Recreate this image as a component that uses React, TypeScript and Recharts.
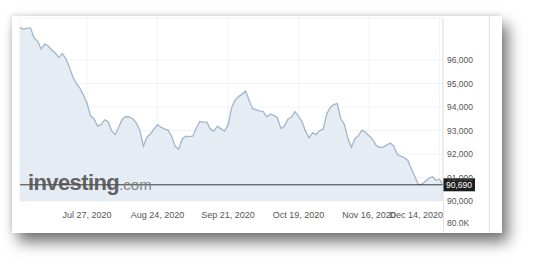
import React from "react";
import {
  AreaChart,
  Area,
  XAxis,
  YAxis,
  CartesianGrid,
  ReferenceLine,
} from "recharts";

// trading-day values, Jun 30 2020 .. Dec 15 2020
const values: number[] = [
  97390, 97310, 97360, 97360, 96940, 96810, 96470, 96680, 96600, 96430,
  96300, 96115, 96280, 96065, 95710, 95275, 95000, 94806, 94508, 94170,
  93633, 93490, 93186, 93250, 93459, 93378, 92994, 92823, 93143, 93484,
  93591, 93582, 93501, 93314, 93015, 92333, 92717, 92853, 93058, 93250,
  93143, 93058, 93015, 92760, 92333, 92205, 92631, 92760, 92738, 92760,
  93100, 93386, 93356, 93356, 93058, 92973, 93186, 93071, 92973, 93228,
  93953, 94294, 94444, 94550, 94678, 94294, 93932, 93889, 93825, 93804,
  93582, 93697, 93655, 93548, 93088, 93186, 93484, 93570, 93804, 93612,
  93378, 92973, 92695, 92909, 92823, 92994, 93058, 93697, 93996, 94102,
  94145, 93506, 93271, 92674, 92290, 92653, 92781, 93015, 92930, 92781,
  92631, 92376, 92278, 92290, 92376, 92469, 92342, 91992, 91907, 91843,
  91736, 91374, 91054, 90691, 90713, 90840, 90968, 91032, 90883, 90926,
  90690,
];

const xTickDays: number[] = [20, 40, 60, 80, 100, 120];
const xTickLabels: string[] = [
  "Jul 27, 2020",
  "Aug 24, 2020",
  "Sep 21, 2020",
  "Oct 19, 2020",
  "Nov 16, 2020",
  "Dec 14, 2020",
];
const yTicks: number[] = [90000, 91000, 92000, 93000, 94000, 95000, 96000];
const lastPrice = 90690;
const lastPriceLabel = "90,690";
const extraAxisLabel = "80.0K";

const data = values.map((v, i) => ({ t: i + 1, v }));

const FONT = "Arial, 'Liberation Sans', sans-serif";

const XTick = (props: any) => {
  const { x, y, payload, index } = props;
  const idx = xTickDays.indexOf(payload.value);
  const label = idx >= 0 ? xTickLabels[idx] : "";
  const isLast = idx === xTickDays.length - 1;
  return (
    <text
      x={isLast ? 431 : x}
      y={y + 15}
      textAnchor={isLast ? "end" : "middle"}
      fill="#555"
      fontSize={9}
      fontFamily={FONT}
    >
      {label}
    </text>
  );
};

const PriceLabel = (props: any) => {
  const { viewBox } = props;
  const x = viewBox.x + viewBox.width;
  const y = viewBox.y;
  return (
    <g>
      <rect x={x} y={y - 6.5} width={32} height={13} fill="#1e1e1e" />
      <text
        x={x + 16}
        y={y + 3}
        textAnchor="middle"
        fill="#fff"
        fontSize={8.5}
        fontFamily={FONT}
      >
        {lastPriceLabel}
      </text>
    </g>
  );
};

export default function App() {
  return (
    <div
      style={{
        position: "absolute",
        left: 0,
        top: 0,
        width: 535,
        height: 268,
        background: "#fff",
        overflow: "hidden",
      }}
    >
      <div
        style={{
          position: "absolute",
          left: 12,
          top: 16,
          width: 490,
          height: 217,
          background: "#fff",
          boxShadow: "6px 9px 14px rgba(0,0,0,0.55), -1px -1px 5px rgba(0,0,0,0.12)",
        }}
      >
        <AreaChart
          width={490}
          height={217}
          data={data}
          margin={{ top: 2, right: 13, bottom: 0, left: 8 }}
        >
          <CartesianGrid stroke="#f1f3f5" strokeWidth={1} />
          <XAxis
            dataKey="t"
            type="number"
            domain={[1, 121]}
            ticks={xTickDays}
            tick={<XTick />}
            tickLine={false}
            axisLine={false}
            tickSize={0}
            height={32}
            interval={0}
          />
          <YAxis
            orientation="right"
            domain={[90000, 97790]}
            allowDataOverflow
            ticks={yTicks}
            tickFormatter={(v: number) => v.toLocaleString("en-US")}
            tick={{ fill: "#555", fontSize: 8.5, fontFamily: FONT }}
            tickLine={false}
            tickSize={0}
            tickMargin={4}
            axisLine={{ stroke: "#e2e2e2" }}
            width={46}
            interval={0}
          />
          <Area
            type="linear"
            dataKey="v"
            stroke="#a3b5c8"
            strokeWidth={1.3}
            fill="#e5ecf4"
            fillOpacity={1}
            isAnimationActive={false}
            dot={false}
            activeDot={false}
          />
          <ReferenceLine
            y={lastPrice}
            stroke="#3a3a3a"
            strokeWidth={1}
            label={<PriceLabel />}
          />
        </AreaChart>
        <div
          style={{
            position: "absolute",
            left: 431,
            top: 185,
            width: 1,
            height: 32,
            background: "#e2e2e2",
          }}
        />
        <div
          style={{
            position: "absolute",
            left: 477,
            top: 0,
            width: 1,
            height: 217,
            background: "#e0e0e0",
          }}
        />
        <div
          style={{
            position: "absolute",
            left: 435,
            top: 201,
            fontSize: 8.5,
            fontFamily: FONT,
            color: "#555",
            lineHeight: "12px",
          }}
        >
          {extraAxisLabel}
        </div>
        <div
          style={{
            position: "absolute",
            left: 16,
            top: 154,
            fontFamily: FONT,
            whiteSpace: "nowrap",
            lineHeight: "normal",
          }}
        >
          <span
            style={{
              fontSize: 22,
              fontWeight: "bold",
              color: "rgba(80,80,80,0.9)",
              letterSpacing: -0.6,
            }}
          >
            investing
          </span>
          <span style={{ fontSize: 15, color: "rgba(120,120,120,0.9)" }}>.com</span>
        </div>
      </div>
    </div>
  );
}
